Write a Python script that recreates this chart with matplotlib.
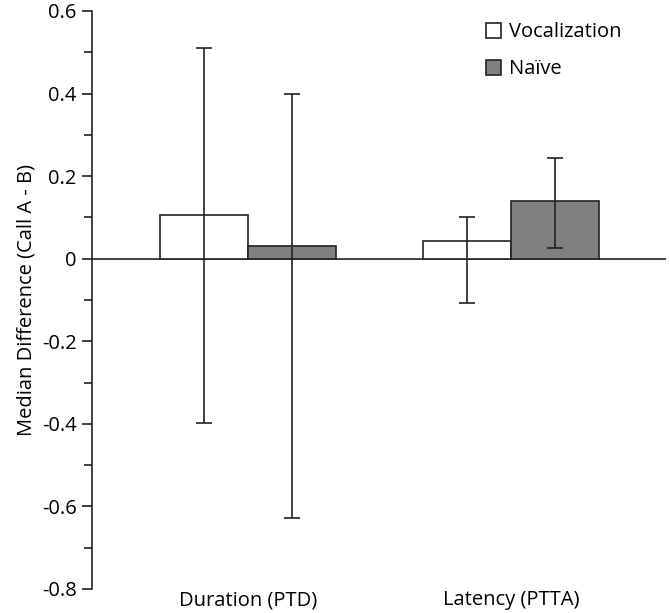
import matplotlib
matplotlib.use("Agg")
import matplotlib.pyplot as plt
from matplotlib.patches import Patch
from matplotlib.ticker import FixedLocator, MultipleLocator, FuncFormatter
import numpy as np

plt.rcParams['font.family'] = ['Open Sans', 'DejaVu Sans']
plt.rcParams['axes.unicode_minus'] = False

categories = ["Duration (PTD)", "Latency (PTTA)"]
series_names = ["Vocalization", "Naïve"]
vocal_vals = [0.105, 0.042]
vocal_hi = [0.51, 0.10]
vocal_lo = [-0.397, -0.107]
naive_vals = [0.031, 0.139]
naive_hi = [0.40, 0.243]
naive_lo = [-0.628, 0.025]
yticks = [-0.8, -0.6, -0.4, -0.2, 0, 0.2, 0.4, 0.6]

fs = 14.5
fig = plt.figure(figsize=(6.7, 6.13), dpi=100)
ax = fig.add_axes([92/670, 1-589/613, (666-92)/670, (589-11)/613])

x = np.arange(len(categories))
w = 0.335
vals = [vocal_vals, naive_vals]
his = [vocal_hi, naive_hi]
los = [vocal_lo, naive_lo]
colors = ["white", "#808080"]
for i in range(2):
    xs = x + (i - 0.5) * w
    v = np.array(vals[i])
    yerr = np.array([v - np.array(los[i]), np.array(his[i]) - v])
    ax.bar(xs, v, width=w, color=colors[i], edgecolor="#222222", linewidth=1.2, zorder=2)
    ax.errorbar(xs, v, yerr=yerr, fmt="none", ecolor="#222222", elinewidth=1.2,
                capsize=6, capthick=1.2, zorder=3)

ax.axhline(0, color="#222222", linewidth=1.2, zorder=1)
ax.set_xlim(-0.593, 1.589)
ax.set_ylim(-0.8, 0.6)
for s in ["top", "right", "bottom"]:
    ax.spines[s].set_visible(False)
ax.spines["left"].set_linewidth(1.2)
ax.spines["left"].set_color("#222222")
ax.yaxis.set_major_locator(FixedLocator(yticks))
ax.yaxis.set_minor_locator(MultipleLocator(0.1))
ax.yaxis.set_major_formatter(FuncFormatter(lambda v, p: "0" if abs(v) < 1e-9 else f"{v:.1f}"))
ax.tick_params(axis="y", which="major", length=7, width=1.2, color="#222222", labelsize=fs, pad=4)
ax.tick_params(axis="y", which="minor", length=6, width=1.2, color="#222222")
ax.set_xticks(x)
ax.set_xticklabels(categories)
ax.tick_params(axis="x", length=0, labelsize=fs, pad=1)
ax.set_ylabel("Median Difference (Call A - B)", fontsize=fs, labelpad=4)

handles = [Patch(facecolor=c, edgecolor="#222222", linewidth=1.2) for c in colors]
ax.legend(handles, series_names, loc="upper left", bbox_to_anchor=((472-92)/574, 1.005),
          frameon=False, fontsize=fs, handlelength=0.75, handleheight=0.75,
          handletextpad=0.4, labelspacing=0.85, borderaxespad=0.3)

fig.savefig("out.png", dpi=100)
